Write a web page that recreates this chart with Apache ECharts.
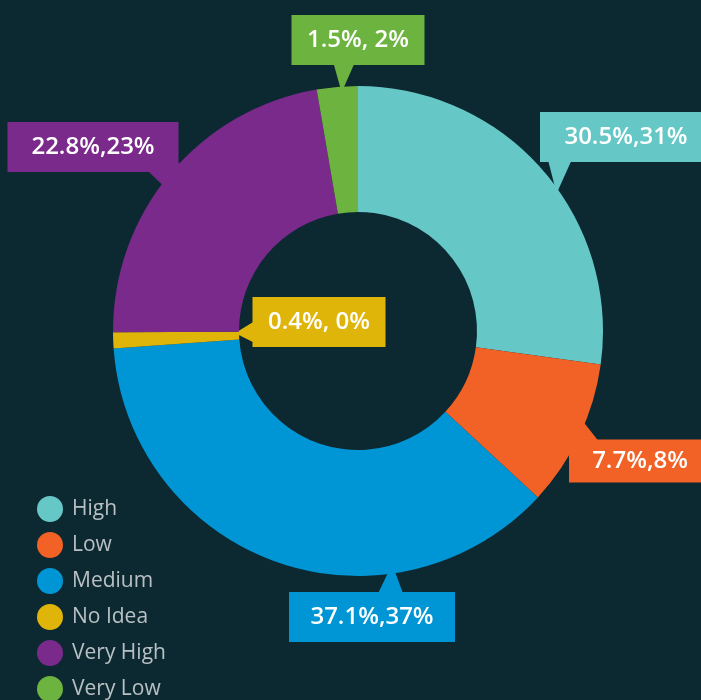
<!DOCTYPE html>
<html>
<head>
<meta charset="utf-8">
<script src="https://cdn.jsdelivr.net/npm/echarts@6/dist/echarts.min.js"></script>
<style>
  html, body { margin: 0; padding: 0; background: #0c2932; }
  #chart { width: 701px; height: 700px; }
</style>
</head>
<body>
<div id="chart"></div>
<script>
var categories = ['High', 'Low', 'Medium', 'No Idea', 'Very High', 'Very Low'];
// slice shares as drawn in the picture
var values = [27.2, 9.7, 37.0, 1.05, 22.4, 2.7];
var labelTexts = ['30.5%,31%', '7.7%,8%', '37.1%,37%', '0.4%, 0%', '22.8%,23%', '1.5%, 2%'];
var colors = ['#66c8c6', '#f26125', '#0096d6', '#dfb50a', '#7a2a8a', '#6db33f'];

// callout boxes: centre, size, pointer tip and pointer base
var callouts = [
    {x: 626, y: 137, w: 172, h: 50, tip: [557, 189], base: [[549, 158], [571, 158]]},
    {x: 640, y: 461, w: 142, h: 43, tip: [580, 420], base: [[571, 458], [598, 443]]},
    {x: 372, y: 617, w: 166, h: 50, tip: [392, 568], base: [[379, 595], [402, 595]]},
    {x: 319, y: 322, w: 133, h: 50, tip: [238, 333], base: [[256, 322], [256, 342]]},
    {x: 93, y: 147, w: 171, h: 50, tip: [176, 196], base: [[149, 170], [178, 164]]},
    {x: 358, y: 40, w: 133, h: 50, tip: [342, 88], base: [[335, 63], [353, 63]]}
];

// fill the pointer triangle with a fan of strokes
function pointerFan(c) {
    var pts = [c.tip];
    var n = 14;
    for (var i = 0; i <= n; i++) {
        var t = i / n;
        pts.push([c.base[0][0] + (c.base[1][0] - c.base[0][0]) * t,
                  c.base[0][1] + (c.base[1][1] - c.base[0][1]) * t]);
        pts.push(c.tip);
    }
    return pts;
}

var pieData = categories.map(function (name, i) {
    return {
        name: name,
        value: values[i],
        itemStyle: {color: colors[i]},
        label: {
            backgroundColor: colors[i],
            width: callouts[i].w,
            height: callouts[i].h,
            lineHeight: callouts[i].h
        },
        labelLine: {lineStyle: {color: colors[i]}}
    };
});

var myChart = echarts.init(document.getElementById('chart'));
myChart.setOption({
    backgroundColor: '#0c2932',
    animation: false,
    legend: {
        orient: 'vertical',
        left: 32,
        top: 491,
        height: 300,
        icon: 'circle',
        itemWidth: 26,
        itemHeight: 26,
        itemGap: 10,
        selectedMode: false,
        textStyle: {
            color: '#b9c0c4',
            fontSize: 21,
            fontFamily: 'Open Sans',
            padding: [0, 0, 0, 4]
        },
        data: categories
    },
    series: [
        {
            type: 'pie',
            center: [358, 331],
            radius: [119, 245],
            startAngle: 90,
            clockwise: true,
            avoidLabelOverlap: false,
            data: pieData,
            label: {
                show: true,
                formatter: function (p) { return labelTexts[p.dataIndex]; },
                color: '#ffffff',
                fontSize: 24,
                fontWeight: 600,
                fontFamily: 'Open Sans',
                align: 'center',
                verticalAlign: 'middle',
                padding: 0
            },
            labelLine: {
                show: true,
                length: 10,
                length2: 10,
                lineStyle: {width: 3, cap: 'round', join: 'round'}
            },
            labelLayout: function (params) {
                var c = callouts[params.dataIndex];
                return {
                    x: c.x,
                    y: c.y,
                    align: 'center',
                    verticalAlign: 'middle',
                    labelLinePoints: pointerFan(c)
                };
            }
        }
    ]
});
</script>
</body>
</html>
